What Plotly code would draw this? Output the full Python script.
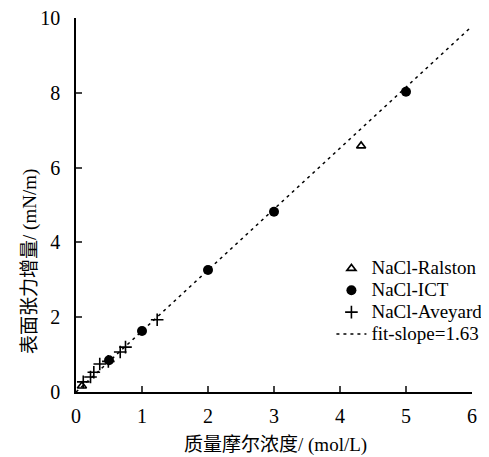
import plotly.graph_objects as go

ralston_x = [0.09, 4.32]
ralston_y = [0.16, 6.58]
ict_x = [0.5, 1.0, 2.0, 3.0, 5.0]
ict_y = [0.85, 1.63, 3.26, 4.82, 8.03]
aveyard_x = [0.11, 0.22, 0.27, 0.36, 0.49, 0.67, 0.75, 1.23]
aveyard_y = [0.27, 0.40, 0.53, 0.75, 0.82, 1.07, 1.20, 1.93]
fit_slope = 1.63
fit_x = [0.0, 6.0]
fit_y = [fit_slope * v for v in fit_x]

serif = "Liberation Serif"
cjk = "Noto Sans CJK SC"
x_title = "<span style='font-family:%s'>质量摩尔浓度</span>/ (mol/L)" % cjk
y_title = "<span style='font-family:%s'>表面张力增量</span>/ (mN/m)" % cjk

def lg(name):
    return "<span style='font-size:19px'>%s</span>" % name

fig = go.Figure()
fig.add_trace(go.Scatter(x=ralston_x, y=ralston_y, mode="markers", name=lg("NaCl-Ralston"),
                         marker=dict(symbol="triangle-up-open", size=8, color="black",
                                     line=dict(width=1.6, color="black"))))
fig.add_trace(go.Scatter(x=ict_x, y=ict_y, mode="markers", name=lg("NaCl-ICT"),
                         marker=dict(symbol="circle", size=10, color="black")))
fig.add_trace(go.Scatter(x=aveyard_x, y=aveyard_y, mode="markers", name=lg("NaCl-Aveyard"),
                         marker=dict(symbol="cross-thin-open", size=9, color="black",
                                     line=dict(width=1.6, color="black"))))
fig.add_trace(go.Scatter(x=fit_x, y=fit_y, mode="lines", name=lg("fit-slope=1.63"),
                         line=dict(color="black", width=1.6, dash="3px,4px")))

fig.update_layout(
    width=481, height=449,
    margin=dict(l=68, r=17, t=10, b=65, autoexpand=False),
    plot_bgcolor="white", paper_bgcolor="white",
    font=dict(family=serif, size=20, color="black"),
    showlegend=True,
    legend=dict(x=0.645, y=0.373, xanchor="left", yanchor="top",
                traceorder="normal", font=dict(family=serif, size=14.5),
                bgcolor="rgba(0,0,0,0)", itemwidth=30, tracegroupgap=0),
    xaxis=dict(range=[0, 6], tickvals=[0, 1, 2, 3, 4, 5, 6], ticks="inside", ticklen=6,
               tickwidth=1.5, showline=True, linecolor="black", linewidth=1.5,
               showgrid=False, zeroline=False, mirror=False, automargin=False,
               ticklabeloverflow="allow",
               tickfont=dict(family=serif, size=20), ticklabelstandoff=5),
    yaxis=dict(range=[0, 10], tickvals=[0, 2, 4, 6, 8, 10], ticks="inside", ticklen=6,
               tickwidth=1.5, showline=True, linecolor="black", linewidth=1.5,
               showgrid=False, zeroline=False, mirror=False, automargin=False,
               ticklabeloverflow="allow",
               tickfont=dict(family=serif, size=20), ticklabelstandoff=10),
    annotations=[
        dict(text=x_title, xref="paper", yref="paper", x=0.505, y=-0.134,
             xanchor="center", yanchor="middle", showarrow=False,
             font=dict(family=serif, size=19)),
        dict(text=y_title, xref="paper", yref="paper", x=-0.121, y=0.348,
             xanchor="center", yanchor="middle", showarrow=False, textangle=-90,
             font=dict(family=serif, size=19)),
    ],
)

fig.write_html("out.html")
